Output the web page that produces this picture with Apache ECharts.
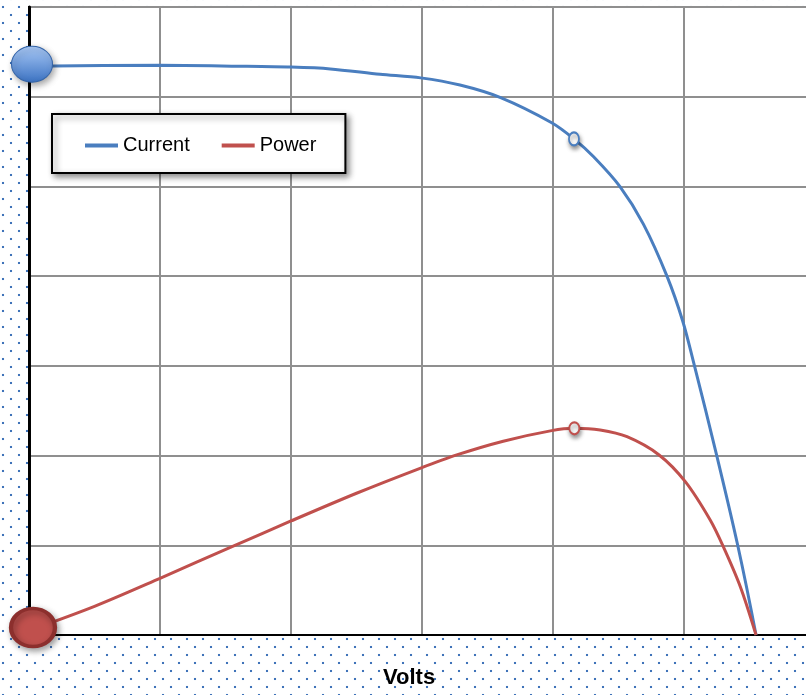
<!DOCTYPE html>
<html>
<head>
<meta charset="utf-8">
<script src="https://cdn.jsdelivr.net/npm/echarts@6/dist/echarts.min.js"></script>
<style>
  html, body { margin: 0; padding: 0; }
  body {
    width: 806px; height: 695px; overflow: hidden;
    background-color: #fff;
    background-image:
      radial-gradient(circle at 8px 8px, #3f73b9 0, #3f73b9 1px, rgba(63,115,185,0) 1.6px),
      radial-gradient(circle at 8px 8px, #3f73b9 0, #3f73b9 1px, rgba(63,115,185,0) 1.6px);
    background-size: 16px 16px, 16px 16px;
    background-position: -5px -1px, 3px 7px;
  }
  #chart { width: 806px; height: 695px; }
</style>
</head>
<body>
<div id="chart"></div>
<script>
// Values, in grid units
const currentVolts = [0, 1, 1.6, 2, 2.3, 2.68, 2.99, 3.29, 3.6, 3.99, 4.16, 4.31, 4.51, 4.69, 4.87, 4.99, 5.08, 5.25, 5.41, 5.55];
const current      = [6.34, 6.35, 6.34, 6.33, 6.31, 6.25, 6.21, 6.13, 5.99, 5.71, 5.53, 5.33, 5.0, 4.58, 4.0, 3.5, 3.0, 2.0, 1.0, 0];
const powerVolts   = [0, 0.5, 1, 1.55, 2, 2.5, 2.985, 3.265, 3.62, 3.99, 4.163, 4.36, 4.565, 4.81, 5.01, 5.2, 5.3, 5.43, 5.55];
const power        = [0.05, 0.32, 0.632, 0.985, 1.271, 1.58, 1.858, 2.007, 2.16, 2.278, 2.304, 2.285, 2.21, 2.007, 1.709, 1.282, 0.985, 0.538, 0];
const seriesNames = ['Current', 'Power'];
const axisTitle = 'Volts';
const currentMppIndex = 10; // maximum power point sample on the current curve
const powerMppIndex = 10;   // maximum power point sample on the power curve

const blue = '#4a7ebf';
const red = '#c0504d';

const pairs = (xs, ys) => xs.map((v, i) => [v, ys[i]]);

const chart = echarts.init(document.getElementById('chart'), null, { renderer: 'canvas' });
chart.setOption({
  animation: false,
  backgroundColor: 'transparent',
  title: {
    text: axisTitle,
    left: 383, top: 667,
    padding: 0,
    textStyle: { fontFamily: 'Liberation Sans, Arial', fontWeight: 'bold', fontSize: 22, color: '#000' }
  },
  grid: {
    left: 29, top: 7, width: 786, height: 628,
    outerBoundsMode: 'none',
    containLabel: false,
    show: true, backgroundColor: '#ffffff', borderColor: '#000', borderWidth: 2
  },
  legend: {
    data: seriesNames,
    orient: 'horizontal',
    left: 52, top: 114,
    padding: [19, 29, 15, 33],
    itemGap: 32,
    itemWidth: 33, itemHeight: 4,
    icon: 'rect',
    backgroundColor: '#fff',
    borderColor: '#000', borderWidth: 2,
    shadowBlur: 6, shadowOffsetX: 3, shadowOffsetY: 3, shadowColor: 'rgba(0,0,0,0.45)',
    textStyle: { fontFamily: 'Liberation Sans, Arial', fontSize: 20, color: '#000', lineHeight: 25 }
  },
  xAxis: {
    type: 'value', min: 0, max: 6, interval: 1,
    axisLabel: { show: false }, axisTick: { show: false },
    axisLine: { show: true, onZero: false, lineStyle: { color: '#000', width: 2 } },
    splitLine: { show: true, lineStyle: { color: '#8f8f8f', width: 2 } }
  },
  yAxis: {
    type: 'value', min: 0, max: 7, interval: 1,
    axisLabel: { show: false }, axisTick: { show: false },
    axisLine: { show: true, onZero: false, lineStyle: { color: '#000', width: 3 } },
    splitLine: { show: true, lineStyle: { color: '#8f8f8f', width: 2 } }
  },
  series: [
    {
      name: seriesNames[0], type: 'line', data: pairs(currentVolts, current),
      smooth: 0.3, symbol: 'none', color: blue,
      lineStyle: { color: blue, width: 3 }, z: 3
    },
    {
      name: seriesNames[1], type: 'line', data: pairs(powerVolts, power),
      smooth: 0.3, symbol: 'none', color: red,
      lineStyle: { color: red, width: 3 }, z: 3
    },
    {
      name: 'markers', type: 'scatter', z: 5, clip: false,
      data: [
        {
          value: [currentVolts[0], current[0]], symbol: 'circle', symbolSize: [41, 36],
          symbolOffset: [3, -2],
          itemStyle: {
            opacity: 1,
            color: new echarts.graphic.LinearGradient(0, 0, 0, 1, [
              { offset: 0, color: '#a9c9f6' }, { offset: 1, color: '#3b72c2' }
            ]),
            borderColor: '#3464a8', borderWidth: 1,
            shadowBlur: 6, shadowOffsetX: 2, shadowOffsetY: 3, shadowColor: 'rgba(0,0,0,0.35)'
          }
        },
        {
          value: [powerVolts[0], power[0]], symbol: 'circle', symbolSize: [44, 38],
          symbolOffset: [4, -3],
          itemStyle: {
            opacity: 1,
            color: '#c0504d', borderColor: '#8c2f2d', borderWidth: 4,
            shadowBlur: 6, shadowOffsetX: 2, shadowOffsetY: 3, shadowColor: 'rgba(0,0,0,0.35)'
          }
        },
        {
          value: [currentVolts[currentMppIndex], current[currentMppIndex]], symbol: 'circle', symbolSize: [10, 13],
          itemStyle: {
            opacity: 1,
            color: '#fff', borderColor: blue, borderWidth: 2,
            shadowBlur: 4, shadowOffsetX: 1, shadowOffsetY: 3, shadowColor: 'rgba(0,0,0,0.4)'
          }
        },
        {
          value: [powerVolts[powerMppIndex], power[powerMppIndex]], symbol: 'circle', symbolSize: [10, 12],
          itemStyle: {
            opacity: 1,
            color: '#fff', borderColor: red, borderWidth: 2,
            shadowBlur: 4, shadowOffsetX: 1, shadowOffsetY: 3, shadowColor: 'rgba(0,0,0,0.4)'
          }
        }
      ]
    }
  ]
});
</script>
</body>
</html>
